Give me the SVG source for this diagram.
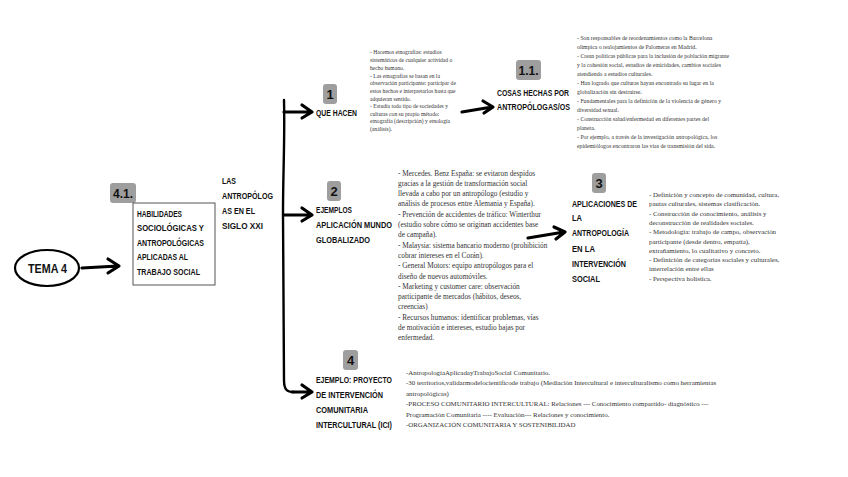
<svg xmlns="http://www.w3.org/2000/svg" width="848" height="477" viewBox="0 0 848 477">
<style>
.h{font-family:"Liberation Sans",Arial,sans-serif;font-weight:bold;font-size:9.5px;fill:#111}
.n{font-family:"Liberation Sans",Arial,sans-serif;font-weight:bold;font-size:13px;fill:#111;text-anchor:middle}
.s{font-family:"Liberation Serif","Times New Roman",serif;fill:#333}
.lb{fill:#9e9e9e}
.ar{fill:none;stroke:#000;stroke-width:3.2;stroke-linecap:round;stroke-linejoin:round}
</style>
<rect width="848" height="477" fill="#fff"/>

<g id="tema4">
<ellipse cx="47" cy="268" rx="32" ry="18" fill="none" stroke="#000" stroke-width="2.2"/>
<text class="h" x="28" y="273" textLength="39" lengthAdjust="spacingAndGlyphs" style="font-size:13px">TEMA 4</text>
</g>

<g id="n41">
<rect class="lb" x="110" y="183" width="26" height="20" rx="3"/>
<text class="n" x="123" y="198" style="font-size:12px">4.1.</text>
<rect x="133" y="203" width="82" height="82" fill="none" stroke="#555" stroke-width="1"/>
<text class="h" x="137" y="216.5" textLength="45" lengthAdjust="spacingAndGlyphs">HABILIDADES</text>
<text class="h" x="137" y="231" textLength="67" lengthAdjust="spacingAndGlyphs">SOCIOLÓGICAS Y</text>
<text class="h" x="137" y="245.5" textLength="67" lengthAdjust="spacingAndGlyphs">ANTROPOLÓGICAS</text>
<text class="h" x="137" y="260" textLength="51" lengthAdjust="spacingAndGlyphs">APLICADAS AL</text>
<text class="h" x="137" y="274.5" textLength="63" lengthAdjust="spacingAndGlyphs">TRABAJO SOCIAL</text>
</g>

<g id="las">
<text class="h" x="222" y="184" textLength="14" lengthAdjust="spacingAndGlyphs">LAS</text>
<text class="h" x="222" y="199" textLength="51" lengthAdjust="spacingAndGlyphs">ANTROPÓLOG</text>
<text class="h" x="222" y="214" textLength="33" lengthAdjust="spacingAndGlyphs">AS EN EL</text>
<text class="h" x="222" y="229" textLength="41" lengthAdjust="spacingAndGlyphs">SIGLO XXI</text>
</g>

<g id="n1">
<rect class="lb" x="323" y="84" width="14" height="20" rx="3"/>
<text class="n" x="330" y="99">1</text>
<text class="h" x="316" y="115.5" textLength="41" lengthAdjust="spacingAndGlyphs">QUE HACEN</text>
</g>

<g id="t1" class="s" style="font-size:5.6px">
<text x="370" y="54">- Hacemos etnografías: estudios</text>
<text x="370" y="62">sistemáticos de cualquier actividad o</text>
<text x="370" y="70">hecho humano.</text>
<text x="370" y="77.5">- Las etnografías se basan en la</text>
<text x="370" y="85">observación participante: participar de</text>
<text x="370" y="93">estos hechos e interpretarlos hasta que</text>
<text x="370" y="100.5">adquieran sentido.</text>
<text x="370" y="108">- Estudia todo tipo de sociedades y</text>
<text x="370" y="115.5">culturas con su propio método:</text>
<text x="370" y="123">etnografía (descripción) y etnología</text>
<text x="370" y="131">(análisis).</text>
</g>

<g id="n11">
<rect class="lb" x="516" y="60" width="25" height="20" rx="3"/>
<text class="n" x="528.5" y="75" style="font-size:12px">1.1.</text>
<text class="h" x="497" y="95.5" textLength="72" lengthAdjust="spacingAndGlyphs">COSAS HECHAS POR</text>
<text class="h" x="497" y="109.5" textLength="73" lengthAdjust="spacingAndGlyphs">ANTROPÓLOGAS/OS</text>
</g>

<g id="t11" class="s" style="font-size:5.8px">
<text x="577" y="40">- Son responsables de reordenamientos como la Barcelona</text>
<text x="577" y="49">olímpica o realojamientos de Palomeras en Madrid.</text>
<text x="577" y="58">- Crean políticas públicas para la inclusión de población migrante</text>
<text x="577" y="67">y la cohesión social, estudios de etnicidades, cambios sociales</text>
<text x="577" y="76">atendiendo a estudios culturales.</text>
<text x="577" y="85">- Han logrado que culturas hayan encontrado su lugar en la</text>
<text x="577" y="94">globalización sin destruirse.</text>
<text x="577" y="103">- Fundamentales para la definición de la violencia de género y</text>
<text x="577" y="112">diversidad sexual.</text>
<text x="577" y="121">- Construcción salud/enfermedad en diferentes partes del</text>
<text x="577" y="130">planeta.</text>
<text x="577" y="139">- Por ejemplo, a través de la investigación antropológica, los</text>
<text x="577" y="148">epidemiólogos encontraron las vías de transmisión del sida.</text>
</g>

<g id="n2">
<rect class="lb" x="327" y="181" width="14" height="20" rx="3"/>
<text class="n" x="334" y="196">2</text>
<text class="h" x="316" y="212.5" textLength="36" lengthAdjust="spacingAndGlyphs">EJEMPLOS</text>
<text class="h" x="316" y="227.5" textLength="76" lengthAdjust="spacingAndGlyphs">APLICACIÓN MUNDO</text>
<text class="h" x="316" y="242.5" textLength="54" lengthAdjust="spacingAndGlyphs">GLOBALIZADO</text>
</g>

<g id="t2" class="s" style="font-size:7.3px">
<text x="398" y="175.5">- Mercedes. Benz España: se evitaron despidos</text>
<text x="398" y="185.8">gracias a la gestión de transformación social</text>
<text x="398" y="196.1">llevada a cabo por un antropólogo (estudio y</text>
<text x="398" y="206.4">análisis de procesos entre Alemania y España).</text>
<text x="398" y="216.7">- Prevención de accidentes de tráfico: Winterthur</text>
<text x="398" y="227">(estudio sobre cómo se originan accidentes base</text>
<text x="398" y="237.3">de campaña).</text>
<text x="398" y="247.6">- Malaysia: sistema bancario moderno (prohibición</text>
<text x="398" y="257.9">cobrar intereses en el Corán).</text>
<text x="398" y="268.2">- General Motors: equipo antropólogos para el</text>
<text x="398" y="278.5">diseño de nuevos automóviles.</text>
<text x="398" y="288.8">- Marketing y customer care: observación</text>
<text x="398" y="299.1">participante de mercados (hábitos, deseos,</text>
<text x="398" y="309.4">creencias)</text>
<text x="398" y="319.7">- Recursos humanos: identificar problemas, vías</text>
<text x="398" y="330">de motivación e intereses, estudio bajas por</text>
<text x="398" y="340.3">enfermedad.</text>
</g>

<g id="n3">
<rect class="lb" x="592" y="173" width="14" height="20" rx="3"/>
<text class="n" x="599" y="188">3</text>
<text class="h" x="572" y="206.5" textLength="65" lengthAdjust="spacingAndGlyphs">APLICACIONES DE</text>
<text class="h" x="572" y="220.5" textLength="10" lengthAdjust="spacingAndGlyphs">LA</text>
<text class="h" x="572" y="235.5" textLength="57" lengthAdjust="spacingAndGlyphs">ANTROPOLOGÍA</text>
<text class="h" x="572" y="251.5" textLength="23" lengthAdjust="spacingAndGlyphs">EN LA</text>
<text class="h" x="572" y="266.5" textLength="54" lengthAdjust="spacingAndGlyphs">INTERVENCIÓN</text>
<text class="h" x="572" y="281.5" textLength="28" lengthAdjust="spacingAndGlyphs">SOCIAL</text>
</g>

<g id="t3" class="s" style="font-size:6.9px">
<text x="649" y="197">- Definición y concepto de comunidad, cultura,</text>
<text x="649" y="206.3">pautas culturales, sistemas clasificación.</text>
<text x="649" y="215.6">- Construcción de conocimiento, análisis y</text>
<text x="649" y="224.9">deconstrucción de realidades sociales.</text>
<text x="649" y="234.2">- Metodología: trabajo de campo, observación</text>
<text x="649" y="243.5">participante (desde dentro, empatía),</text>
<text x="649" y="252.8">extrañamiento, lo cualitativo y concreto.</text>
<text x="649" y="262.1">- Definición de categorías sociales y culturales,</text>
<text x="649" y="271.4">interrelación entre ellas</text>
<text x="649" y="280.7">- Perspectiva holística.</text>
</g>

<g id="n4">
<rect class="lb" x="343" y="350" width="15" height="20" rx="3"/>
<text class="n" x="350.5" y="365">4</text>
<text class="h" x="316" y="382.5" textLength="76" lengthAdjust="spacingAndGlyphs">EJEMPLO: PROYECTO</text>
<text class="h" x="316" y="397.5" textLength="67" lengthAdjust="spacingAndGlyphs">DE INTERVENCIÓN</text>
<text class="h" x="316" y="412.5" textLength="52" lengthAdjust="spacingAndGlyphs">COMUNITARIA</text>
<text class="h" x="316" y="427.5" textLength="76" lengthAdjust="spacingAndGlyphs">INTERCULTURAL (ICI)</text>
</g>

<g id="t4" class="s" style="font-size:6.9px">
<text x="406" y="374.5">-AntropologíaAplicadayTrabajoSocial Comunitario.</text>
<text x="406" y="385">-30 territorios,validarmodelocientíficode trabajo (Mediación Intercultural e interculturalismo como herramientas</text>
<text x="406" y="395.5">antropológicas)</text>
<text x="406" y="406">-PROCESO COMUNITARIO INTERCULTURAL: Relaciones --- Conocimiento compartido- diagnóstico ---</text>
<text x="406" y="416.5">Programación Comunitaria ---- Evaluación--- Relaciones y conocimiento.</text>
<text x="406" y="427">-ORGANIZACIÓN COMUNITARIA Y SOSTENIBILIDAD</text>
</g>

<g id="connectors">
<path class="ar" d="M82 268 L118 266 M108 259 L119 266 L108 273"/>
<path class="ar" style="stroke-width:2.4" d="M284 100 C285 140 283 170 283 215 C283 280 284 340 284 380 C284 390 287 392 294 392"/>
<path class="ar" d="M284 112 L311 112 M302 105 L312 112 L302 118"/>
<path class="ar" d="M284 215 L311 215 M302 208 L312 215 L302 221"/>
<path class="ar" d="M292 392 L311 392 M302 385 L312 392 L302 398"/>
<path class="ar" d="M462 112 L492 107 M483 101 L493 107 L484 113"/>
<path class="ar" d="M528 238 L564 232 M554 227 L565 232 L556 239"/>
</g>
</svg>
